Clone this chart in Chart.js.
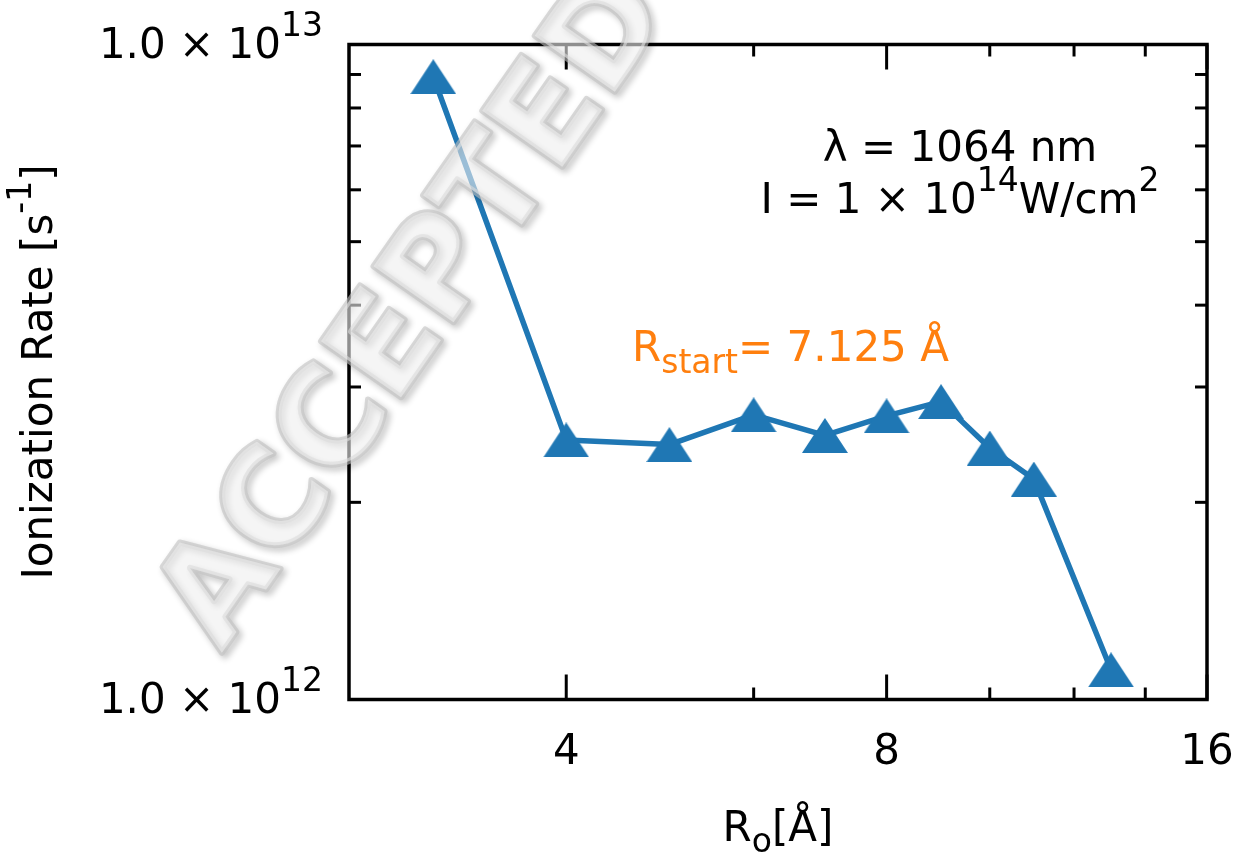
<!DOCTYPE html>
<html>
<head>
  <meta charset="utf-8">
  <title>Ionization Rate</title>
  <script src="https://cdn.jsdelivr.net/npm/chart.js"></script>
  <style>
    * {
      margin: 0;
      padding: 0;
      box-sizing: border-box;
    }

    html, body {
      width: 100%;
      height: 100%;
      overflow: hidden;
      background: #fff;
    }

    #grafik {
      display: block;
    }
  </style>
</head>
<body>
  <canvas id="grafik" width="1238" height="853"></canvas>

  <script>
    // values: R0 [Angstrom] and ionization rate [1/s]
    const radius = [3, 4, 5, 6, 7, 8, 9, 10, 11, 13];
    const rate = [8.93e12, 2.49e12, 2.45e12, 2.72e12, 2.53e12, 2.71e12, 2.85e12, 2.42e12, 2.17e12, 1.11e12];

    // axis ticks
    const xMajor = [4, 8, 16];
    const xMajorLabels = ['4', '8', '16'];
    const xMinor = [6, 10, 12, 14];
    const yMajor = [1e12, 1e13];
    const yMajorExp = ['12', '13'];
    const yMinor = [2e12, 3e12, 4e12, 5e12, 6e12, 7e12, 8e12, 9e12];

    const FONT = '"DejaVu Sans", sans-serif';
    const BIG = 42, SMALL = 33;

    // triangle marker like matplotlib '^'
    const marker = document.createElement('canvas');
    marker.width = 46;
    marker.height = 35;
    const m = marker.getContext('2d');
    m.fillStyle = '#1f77b4';
    m.beginPath();
    m.moveTo(23, 0);
    m.lineTo(46, 35);
    m.lineTo(0, 35);
    m.closePath();
    m.fill();

    // text pieces: [text, size, raise]
    function richText(ctx, parts, x, y, align) {
      let w = 0;
      parts.forEach(p => {
        ctx.font = p[1] + 'px ' + FONT;
        w += ctx.measureText(p[0]).width;
      });
      let cx = align === 'right' ? x - w : align === 'center' ? x - w / 2 : x;
      ctx.textAlign = 'left';
      ctx.textBaseline = 'alphabetic';
      parts.forEach(p => {
        ctx.font = p[1] + 'px ' + FONT;
        ctx.fillText(p[0], cx, y - p[2]);
        cx += ctx.measureText(p[0]).width;
      });
    }

    const decor = {
      id: 'decor',
      afterDraw(chart) {
        const { ctx, chartArea: a, scales: { x, y } } = chart;
        ctx.save();

        // frame
        ctx.strokeStyle = '#000';
        ctx.lineWidth = 3.5;
        ctx.strokeRect(a.left, a.top, a.right - a.left, a.bottom - a.top);

        // inward ticks on all four sides
        ctx.lineWidth = 3;
        const line = (x1, y1, x2, y2) => {
          ctx.beginPath();
          ctx.moveTo(x1, y1);
          ctx.lineTo(x2, y2);
          ctx.stroke();
        };
        const xt = (v, len) => {
          const px = x.getPixelForValue(v);
          line(px, a.bottom, px, a.bottom - len);
          line(px, a.top, px, a.top + len);
        };
        const yt = (v, len) => {
          const py = y.getPixelForValue(v);
          line(a.left, py, a.left + len, py);
          line(a.right, py, a.right - len, py);
        };
        xMajor.forEach(v => xt(v, 25));
        xMinor.forEach(v => xt(v, 12));
        yMajor.forEach(v => yt(v, 25));
        yMinor.forEach(v => yt(v, 12));

        // tick labels
        ctx.fillStyle = '#000';
        xMajor.forEach((v, i) => {
          richText(ctx, [[xMajorLabels[i], BIG, 0]], x.getPixelForValue(v), a.bottom + 64.5, 'center');
        });
        yMajor.forEach((v, i) => {
          richText(ctx, [['1.0 × 10', BIG, 0], [yMajorExp[i], SMALL, 22]], a.left - 26, y.getPixelForValue(v) + 13.5, 'right');
        });

        // axis titles
        richText(ctx, [['R', BIG, 0], ['o', SMALL, -11], ['[Å]', BIG, 0]], (a.left + a.right) / 2, 841, 'center');
        ctx.save();
        ctx.translate(52, (a.top + a.bottom) / 2);
        ctx.rotate(-Math.PI / 2);
        richText(ctx, [['Ionization Rate [s', BIG, 0], ['-1', SMALL, 21], [']', BIG, 0]], 0, 0, 'center');
        ctx.restore();

        // annotations
        richText(ctx, [['λ = 1064 nm', BIG, 0]], 960, 161, 'center');
        richText(ctx, [['I = 1 × 10', BIG, 0], ['14', SMALL, 22], ['W/cm', BIG, 0], ['2', SMALL, 22]], 960, 212.5, 'center');
        ctx.fillStyle = '#ff7f0e';
        richText(ctx, [['R', BIG, 0], ['start', SMALL, -12], ['= 7.125 Å', BIG, 0]], 632, 361, 'left');

        // embossed watermark
        ctx.save();
        ctx.globalAlpha = 0.6;
        ctx.translate(418, 312);
        ctx.rotate(-55 * Math.PI / 180);
        ctx.font = 'bold 134px ' + FONT;
        ctx.textAlign = 'center';
        ctx.textBaseline = 'middle';
        ctx.lineJoin = 'round';
        ctx.shadowColor = 'rgba(0,0,0,0.4)';
        ctx.shadowBlur = 6;
        ctx.shadowOffsetX = 3;
        ctx.shadowOffsetY = 3;
        ctx.lineWidth = 6;
        ctx.strokeStyle = '#c2c2c2';
        ctx.strokeText('ACCEPTED', 0, 0);
        ctx.shadowColor = 'transparent';
        ctx.fillStyle = '#eeeeee';
        ctx.fillText('ACCEPTED', 0, 0);
        ctx.restore();

        ctx.restore();
      }
    };

    new Chart(document.getElementById('grafik'), {
      type: 'line',
      data: {
        datasets: [{
          data: radius.map((r, i) => ({ x: r, y: rate[i] })),
          borderColor: '#1f77b4',
          backgroundColor: '#1f77b4',
          borderWidth: 5.5,
          borderJoinStyle: 'round',
          pointStyle: marker,
          pointRadius: 20,
          pointHoverRadius: 20,
          tension: 0,
          clip: false
        }]
      },
      options: {
        responsive: false,
        animation: false,
        devicePixelRatio: 1,
        events: [],
        layout: { padding: { left: 0, right: 31, top: 44.5, bottom: 0 } },
        plugins: {
          legend: { display: false },
          tooltip: { enabled: false }
        },
        scales: {
          x: {
            type: 'logarithmic',
            min: 2.5,
            max: 16,
            ticks: { display: false },
            grid: { display: false },
            border: { display: false },
            afterFit: s => { s.height = 153.5; }
          },
          y: {
            type: 'logarithmic',
            min: 1e12,
            max: 1e13,
            ticks: { display: false },
            grid: { display: false },
            border: { display: false },
            afterFit: s => { s.width = 349; }
          }
        }
      },
      plugins: [decor]
    });
  </script>
</body>
</html>
